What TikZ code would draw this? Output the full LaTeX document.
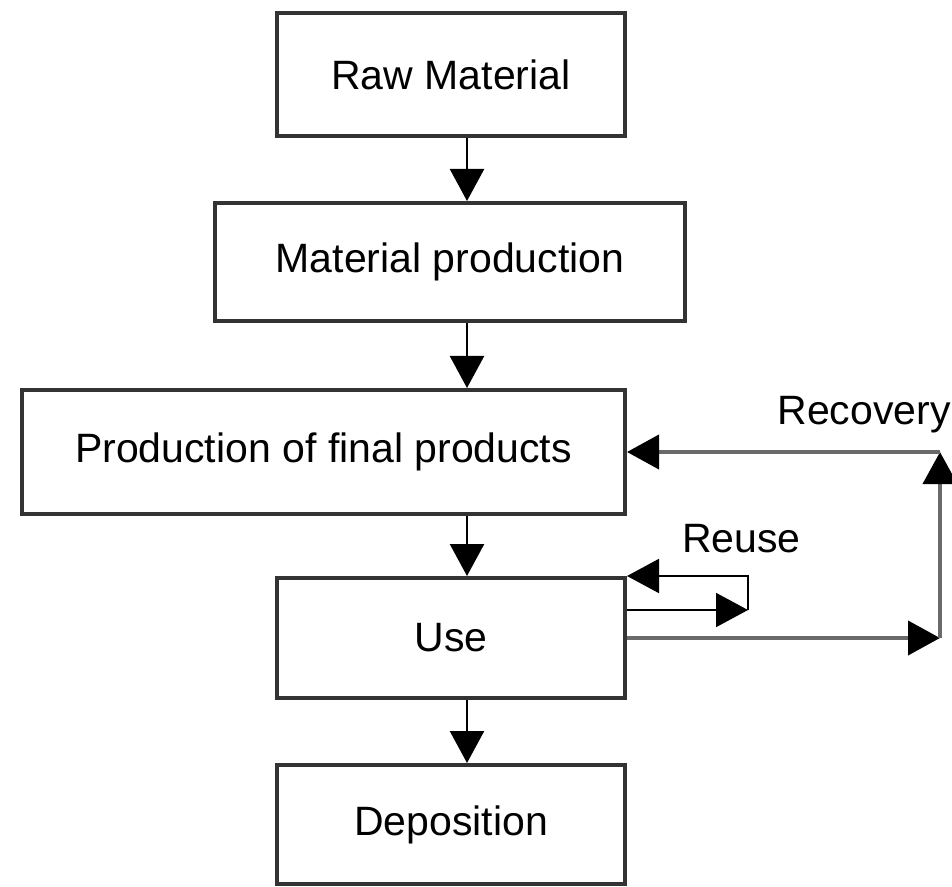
\documentclass[tikz,border=0pt]{standalone}
\usepackage{fontspec}
\setmainfont{Liberation Sans}
\usepackage{tikz}
\usetikzlibrary{arrows.meta}
\definecolor{boxgray}{HTML}{333333}
\definecolor{recgray}{HTML}{6A6A6A}

\begin{document}
\begin{tikzpicture}[x=0.5pt,y=-0.5pt,
    box/.style={draw=boxgray,line width=2pt,inner sep=0pt,
        font=\fontsize{20.5}{24}\selectfont},
    >={Triangle[width=17pt,length=16pt,color=black]}]
    \useasboundingbox (0,0) rectangle (952,887);
    %\draw[help lines,line width=0.1pt,blue] (0,0) grid[step=50] (952,887);
    \node[box,minimum width=174pt,minimum height=61.5pt] (raw) at (451,74.5) {Raw Material};
    \node[box,minimum width=235pt,minimum height=59pt] (matprod) at (450,262) {Material production};
    \node[box,minimum width=301.5pt,minimum height=62pt] (prod) at (323.5,452) {Production of final products};
    \node[box,minimum width=174pt,minimum height=60pt] (use) at (451,638) {Use};
    \node[box,minimum width=174pt,minimum height=59.5pt] (depo) at (451,824.5) {Deposition};
    \path (467,0) coordinate (col);
    \path (748,610) coordinate (RU);
    \path (940,638) coordinate (RC1);
    \path (940,452) coordinate (RC2);
	\draw[line width=1.2pt,black,->] (raw.south -| col)--(matprod.north -| col);
	\draw[line width=1.2pt,black,->] (matprod.south -| col)--(prod.north -| col);
	\draw[line width=1.2pt,black,->] (prod.south -| col)--(use.north -| col);
	\draw[line width=1.2pt,black,->] (use.south -| col)--(depo.north -| col);
	% reuse loop
	\draw[line width=1pt,black,->] (use.east |- RU)--(RU);
	\draw[line width=1pt,black,->] (RU) |- (use.north east);
	\node[font=\fontsize{20.5}{24}\selectfont,anchor=base] (reuse) at (741.5,552) {Reuse};
	% recovery loop
	\draw[line width=2pt,recgray,->] (use.east)--(RC1);
	\draw[line width=2pt,recgray,->] (RC1)--(RC2);
	\draw[line width=2pt,recgray,->] (RC2)--(prod.east);
	\node[font=\fontsize{20.5}{24}\selectfont,anchor=base] (recovery) at (864,424) {Recovery};
\end{tikzpicture}
\end{document}
